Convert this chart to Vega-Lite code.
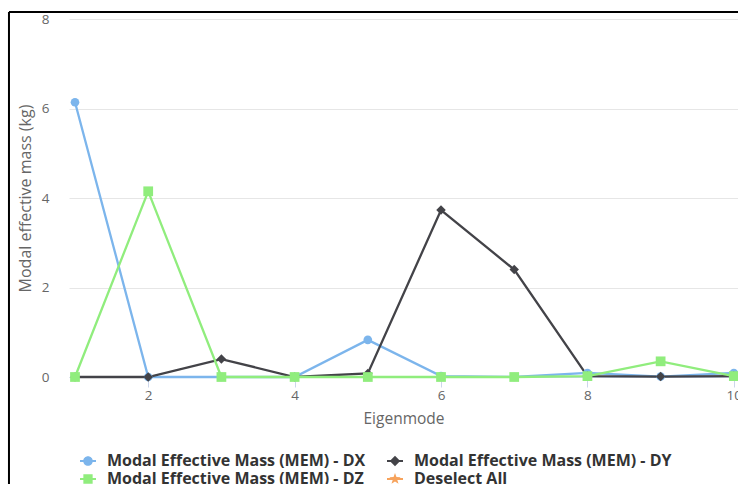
{
  "$schema": "https://vega.github.io/schema/vega-lite/v6.json",
  "autosize": {"type": "none"},
  "width": 669,
  "height": 358,
  "padding": {"left": 69, "top": 19, "right": 0, "bottom": 107},
  "background": "white",
  "config": {
    "view": {"stroke": null},
    "font": "Open Sans"
  },
  "datasets": {
    "mem": [
      {"mode": 1, "series": "Modal Effective Mass (MEM) - DX", "mass": 6.14},
      {"mode": 2, "series": "Modal Effective Mass (MEM) - DX", "mass": 0},
      {"mode": 3, "series": "Modal Effective Mass (MEM) - DX", "mass": 0},
      {"mode": 4, "series": "Modal Effective Mass (MEM) - DX", "mass": 0},
      {"mode": 5, "series": "Modal Effective Mass (MEM) - DX", "mass": 0.83},
      {"mode": 6, "series": "Modal Effective Mass (MEM) - DX", "mass": 0.02},
      {"mode": 7, "series": "Modal Effective Mass (MEM) - DX", "mass": 0},
      {"mode": 8, "series": "Modal Effective Mass (MEM) - DX", "mass": 0.09},
      {"mode": 9, "series": "Modal Effective Mass (MEM) - DX", "mass": 0.01},
      {"mode": 10, "series": "Modal Effective Mass (MEM) - DX", "mass": 0.09},
      {"mode": 1, "series": "Modal Effective Mass (MEM) - DY", "mass": 0},
      {"mode": 2, "series": "Modal Effective Mass (MEM) - DY", "mass": 0},
      {"mode": 3, "series": "Modal Effective Mass (MEM) - DY", "mass": 0.4},
      {"mode": 4, "series": "Modal Effective Mass (MEM) - DY", "mass": 0},
      {"mode": 5, "series": "Modal Effective Mass (MEM) - DY", "mass": 0.08},
      {"mode": 6, "series": "Modal Effective Mass (MEM) - DY", "mass": 3.73},
      {"mode": 7, "series": "Modal Effective Mass (MEM) - DY", "mass": 2.4},
      {"mode": 8, "series": "Modal Effective Mass (MEM) - DY", "mass": 0.02},
      {"mode": 9, "series": "Modal Effective Mass (MEM) - DY", "mass": 0.01},
      {"mode": 10, "series": "Modal Effective Mass (MEM) - DY", "mass": 0.02},
      {"mode": 1, "series": "Modal Effective Mass (MEM) - DZ", "mass": 0},
      {"mode": 2, "series": "Modal Effective Mass (MEM) - DZ", "mass": 4.15},
      {"mode": 3, "series": "Modal Effective Mass (MEM) - DZ", "mass": 0},
      {"mode": 4, "series": "Modal Effective Mass (MEM) - DZ", "mass": 0},
      {"mode": 5, "series": "Modal Effective Mass (MEM) - DZ", "mass": 0},
      {"mode": 6, "series": "Modal Effective Mass (MEM) - DZ", "mass": 0},
      {"mode": 7, "series": "Modal Effective Mass (MEM) - DZ", "mass": 0},
      {"mode": 8, "series": "Modal Effective Mass (MEM) - DZ", "mass": 0.02},
      {"mode": 9, "series": "Modal Effective Mass (MEM) - DZ", "mass": 0.35},
      {"mode": 10, "series": "Modal Effective Mass (MEM) - DZ", "mass": 0.02}
    ],
    "frame": [
      {"x1": 0.098, "x2": 0.098, "y1": 8.156, "y2": -2.5},
      {"x1": 0.098, "x2": 10.2, "y1": 8.156, "y2": 8.156}
    ]
  },
  "layer": [
    {
      "data": {"name": "frame"},
      "mark": {"type": "rule", "color": "#000000", "strokeWidth": 2, "clip": false},
      "encoding": {
        "x": {"field": "x1", "type": "quantitative", "scale": {"domain": [0.918, 10.057], "nice": false, "zero": false}},
        "x2": {"field": "x2"},
        "y": {"field": "y1", "type": "quantitative", "scale": {"domain": [0, 8], "nice": false}},
        "y2": {"field": "y2"}
      }
    },
    {
      "data": {"name": "mem"},
      "mark": {"type": "line", "strokeWidth": 2.3, "clip": false},
      "encoding": {
        "x": {
          "field": "mode", "type": "quantitative",
          "scale": {"domain": [0.918, 10.057], "nice": false, "zero": false},
          "axis": {
            "title": "Eigenmode",
            "values": [2, 4, 6, 8, 10],
            "format": "d",
            "grid": false,
            "domainColor": "#ccd6eb",
            "domainWidth": 1,
            "tickColor": "#ccd6eb",
            "tickSize": 10,
            "labelPadding": 1,
            "labelColor": "#666666",
            "labelFontSize": 13.5,
            "labelFont": "Open Sans",
            "titleColor": "#666666",
            "titleFontSize": 15.5,
            "titleFontWeight": "normal",
            "titleFont": "Open Sans",
            "titlePadding": 10
          }
        },
        "y": {
          "field": "mass", "type": "quantitative",
          "scale": {"domain": [0, 8], "nice": false},
          "axis": {
            "title": "Modal effective mass (kg)",
            "values": [0, 2, 4, 6, 8],
            "domain": false,
            "ticks": false,
            "gridColor": "#e6e6e6",
            "labelPadding": 20,
            "labelColor": "#666666",
            "labelFontSize": 13.5,
            "labelFont": "Open Sans",
            "titleColor": "#666666",
            "titleFontSize": 16,
            "titleFontWeight": "normal",
            "titleFont": "Open Sans",
            "titlePadding": 8
          }
        },
        "color": {
          "field": "series", "type": "nominal",
          "scale": {
            "domain": ["Modal Effective Mass (MEM) - DX", "Modal Effective Mass (MEM) - DY", "Modal Effective Mass (MEM) - DZ", "Deselect All"],
            "range": ["#7cb5ec", "#434348", "#90ed7d", "#f7a35c"]
          },
          "legend": {
            "title": null,
            "orient": "none",
            "legendX": 11,
            "legendY": 434,
            "direction": "horizontal",
            "columns": 2,
            "columnPadding": 21,
            "rowPadding": 2,
            "symbolSize": 256,
            "symbolStrokeWidth": 0,
            "symbolOpacity": 1,
            "labelOffset": 11,
            "labelLimit": 400,
            "labelFont": "Open Sans",
            "labelFontSize": 16,
            "labelFontWeight": "bold",
            "labelColor": "#333333"
          }
        }
      }
    },
    {
      "data": {"name": "mem"},
      "transform": [{"filter": "datum.series === 'nothing'"}],
      "mark": {"type": "point", "filled": true, "opacity": 1},
      "encoding": {
        "x": {"field": "mode", "type": "quantitative"},
        "y": {"field": "mass", "type": "quantitative"},
        "color": {"field": "series", "type": "nominal"},
        "shape": {
          "field": "series", "type": "nominal",
          "scale": {
            "domain": ["Modal Effective Mass (MEM) - DX", "Modal Effective Mass (MEM) - DY", "Modal Effective Mass (MEM) - DZ", "Deselect All"],
            "range": [
              "M-1,-0.125H1V0.125H-1Z M0.6,0A0.6,0.6,0,1,1,-0.6,0A0.6,0.6,0,1,1,0.6,0Z",
              "M-1,-0.125H1V0.125H-1Z M0,-0.65L0.65,0L0,0.65L-0.65,0Z",
              "M-1,-0.125H1V0.125H-1Z M-0.58,-0.58H0.58V0.58H-0.58Z",
              "M-1,-0.125H1V0.125H-1Z M0,-0.75L0.18,-0.24L0.71,-0.23L0.28,0.09L0.44,0.6L0,0.3L-0.44,0.6L-0.28,0.09L-0.71,-0.23L-0.18,-0.24Z"
            ]
          }
        }
      }
    },
    {
      "data": {"name": "mem"},
      "transform": [{"filter": "datum.series === 'Modal Effective Mass (MEM) - DX'"}],
      "mark": {"type": "point", "filled": true, "opacity": 1, "size": 75, "shape": "circle", "clip": false},
      "encoding": {
        "x": {"field": "mode", "type": "quantitative"},
        "y": {"field": "mass", "type": "quantitative"},
        "color": {"field": "series", "type": "nominal"}
      }
    },
    {
      "data": {"name": "mem"},
      "transform": [{"filter": "datum.series === 'Modal Effective Mass (MEM) - DY'"}],
      "mark": {"type": "point", "filled": true, "opacity": 1, "size": 90, "shape": "diamond", "clip": false},
      "encoding": {
        "x": {"field": "mode", "type": "quantitative"},
        "y": {"field": "mass", "type": "quantitative"},
        "color": {"field": "series", "type": "nominal"}
      }
    },
    {
      "data": {"name": "mem"},
      "transform": [{"filter": "datum.series === 'Modal Effective Mass (MEM) - DZ'"}],
      "mark": {"type": "point", "filled": true, "opacity": 1, "size": 95, "shape": "square", "clip": false},
      "encoding": {
        "x": {"field": "mode", "type": "quantitative"},
        "y": {"field": "mass", "type": "quantitative"},
        "color": {"field": "series", "type": "nominal"}
      }
    }
  ]
}
